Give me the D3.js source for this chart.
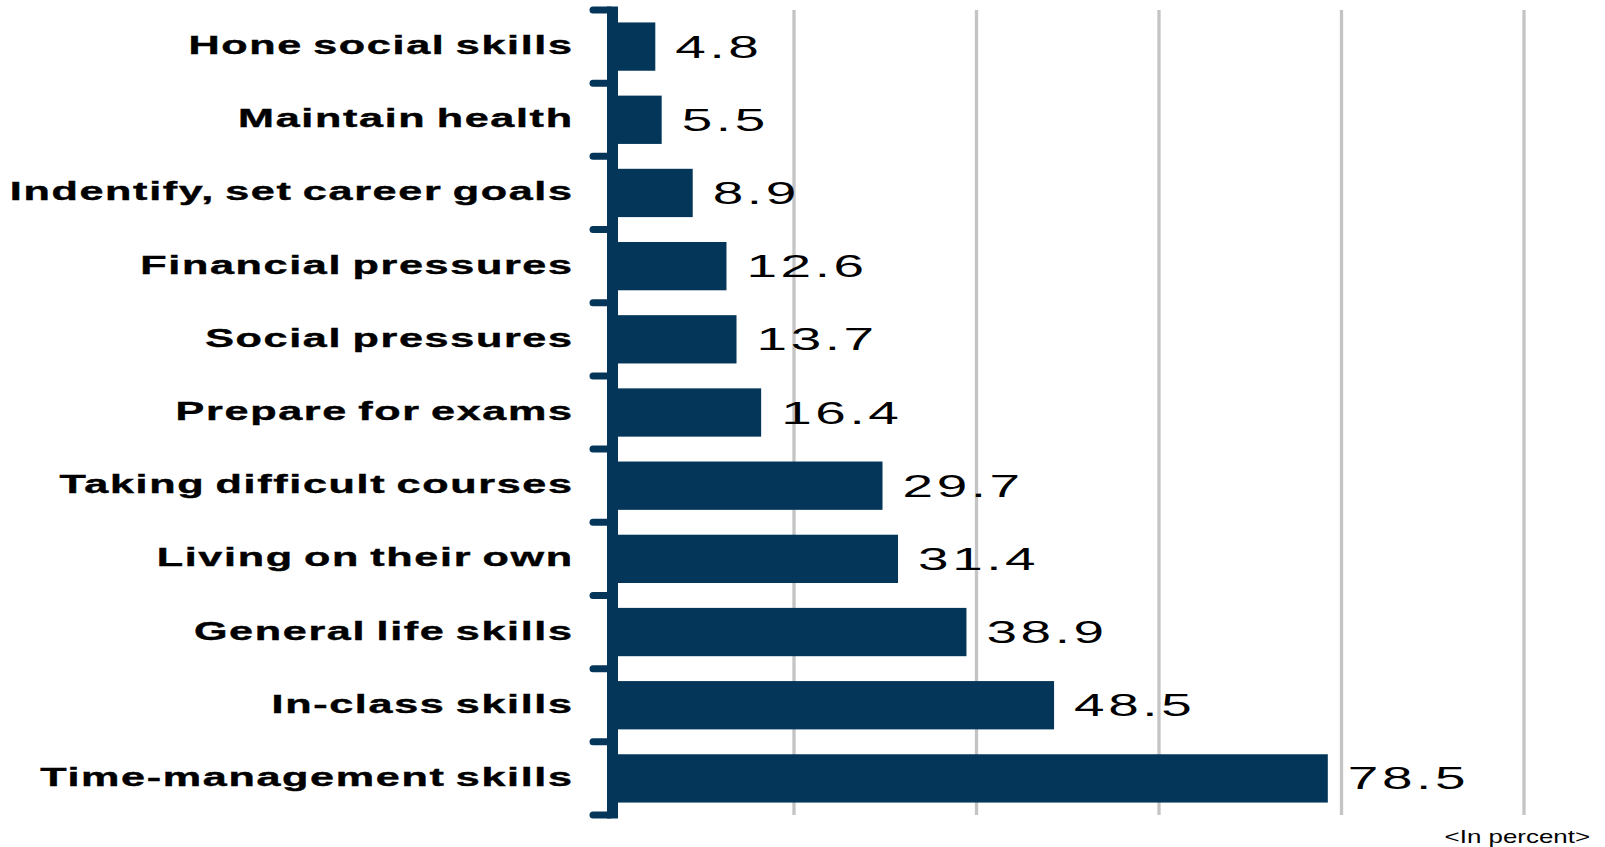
<!DOCTYPE html>
<html>
<head>
<meta charset="utf-8">
<script src="https://cdn.jsdelivr.net/npm/d3@7"></script>
<style>
  html, body { margin: 0; padding: 0; background: #fff; }
  svg { display: block; }
</style>
</head>
<body>
<svg id="chart" width="1605" height="847"></svg>
<script>
const categories = [
  "Hone social skills",
  "Maintain health",
  "Indentify, set career goals",
  "Financial pressures",
  "Social pressures",
  "Prepare for exams",
  "Taking difficult courses",
  "Living on their own",
  "General life skills",
  "In-class skills",
  "Time-management skills"
];
const values = [4.8, 5.5, 8.9, 12.6, 13.7, 16.4, 29.7, 31.4, 38.9, 48.5, 78.5];
const gridTicks = [20, 40, 60, 80, 100];
const unitLabel = "<In percent>";

(function () {
const svg = d3.select("#chart");
const plotTop = 10, plotBottom = 815;
const x = d3.scaleLinear().domain([0, 100]).range([611.5, 1524]);
const y = d3.scaleBand().domain(categories).range([plotTop, plotBottom]).paddingInner(0.34).paddingOuter(0.17);
const yOuter = d3.scaleBand().domain(categories).range([plotTop, plotBottom]);
const barColor = "#04365a";

// gridlines
svg.append("g")
  .selectAll("line")
  .data(gridTicks)
  .join("line")
  .attr("x1", d => x(d)).attr("x2", d => x(d))
  .attr("y1", plotTop).attr("y2", plotBottom)
  .attr("stroke", "#c4c4c4")
  .attr("stroke-width", 3.3);

// bars
svg.append("g")
  .selectAll("rect")
  .data(values)
  .join("rect")
  .attr("x", x(0))
  .attr("y", (d, i) => y(categories[i]))
  .attr("width", d => x(d) - x(0))
  .attr("height", y.bandwidth())
  .attr("fill", barColor);

// axis: vertical line + ticks at band boundaries
const boundaries = categories.map(c => yOuter(c)).concat([plotBottom]);
const ax = svg.append("g");
ax.selectAll("line.tick")
  .data(boundaries)
  .join("line")
  .attr("class", "tick")
  .attr("x1", 593).attr("x2", 610)
  .attr("y1", d => d).attr("y2", d => d)
  .attr("stroke", barColor)
  .attr("stroke-width", 7)
  .attr("stroke-linecap", "round");
ax.append("line")
  .attr("x1", 612.5).attr("x2", 612.5)
  .attr("y1", plotTop - 3.5).attr("y2", plotBottom + 3.5)
  .attr("stroke", barColor)
  .attr("stroke-width", 11);

// category labels
const sLab = 1.66, lsLab = 1.0;
svg.append("g")
  .selectAll("text")
  .data(categories)
  .join("text")
  .attr("transform", d => `translate(${572 + lsLab * sLab},${yOuter(d) + yOuter.bandwidth() / 2 + 7.5}) scale(${sLab},1)`)
  .attr("text-anchor", "end")
  .attr("font-family", "Liberation Sans, Arial, sans-serif")
  .attr("font-weight", "bold")
  .attr("font-size", 26)
  .attr("letter-spacing", lsLab)
  .attr("word-spacing", -2)
  .attr("fill", "#000")
  .attr("stroke", "#000")
  .attr("stroke-width", 0.4)
  .text(d => d);

// value labels
const sVal = 1.8, lsVal = 2;
svg.append("g")
  .selectAll("text")
  .data(values)
  .join("text")
  .attr("transform", (d, i) => `translate(${x(d) + 20},${yOuter(categories[i]) + yOuter.bandwidth() / 2 + 11}) scale(${sVal},1)`)
  .attr("font-family", "Liberation Sans, Arial, sans-serif")
  .attr("font-size", 30.5)
  .attr("letter-spacing", lsVal)
  .attr("fill", "#000")
  .text(d => d.toFixed(1));

// unit label
svg.append("text")
  .attr("transform", `translate(1590,843) scale(1.4,1)`)
  .attr("text-anchor", "end")
  .attr("font-family", "Liberation Sans, Arial, sans-serif")
  .attr("font-size", 18.5)
  .attr("fill", "#000")
  .text(unitLabel);
})();
</script>
</body>
</html>
